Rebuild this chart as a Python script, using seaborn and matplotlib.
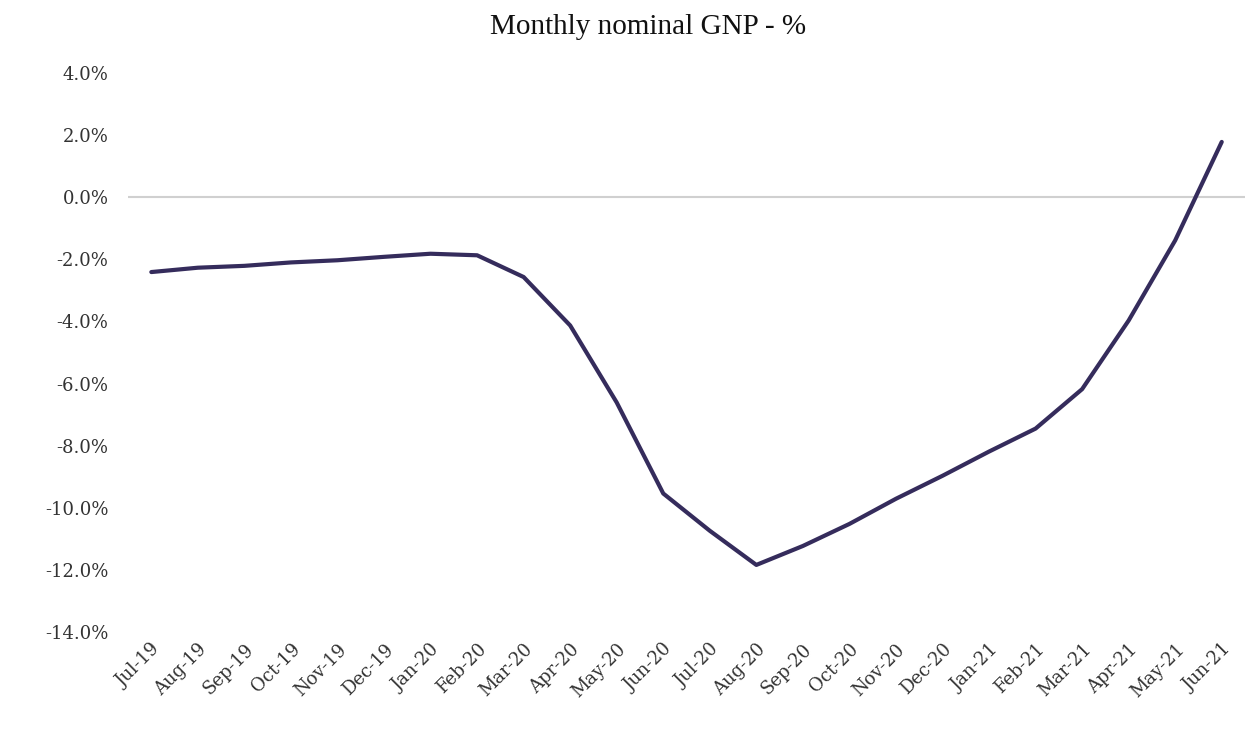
import pandas as pd
import seaborn as sns
import matplotlib.pyplot as plt
from matplotlib.ticker import FuncFormatter

# month labels and values
months = ['Jul-19', 'Aug-19', 'Sep-19', 'Oct-19', 'Nov-19', 'Dec-19',
          'Jan-20', 'Feb-20', 'Mar-20', 'Apr-20', 'May-20', 'Jun-20',
          'Jul-20', 'Aug-20', 'Sep-20', 'Oct-20', 'Nov-20', 'Dec-20',
          'Jan-21', 'Feb-21', 'Mar-21', 'Apr-21', 'May-21', 'Jun-21']
gnp = [-2.41, -2.27, -2.21, -2.10, -2.03, -1.92,
       -1.82, -1.87, -2.57, -4.13, -6.61, -9.54,
       -10.74, -11.84, -11.23, -10.52, -9.71, -8.97,
       -8.19, -7.45, -6.18, -3.97, -1.39, 1.78]
yticks = [-14, -12, -10, -8, -6, -4, -2, 0, 2, 4]

df = pd.DataFrame({'month': months, 'gnp': gnp})

sns.set_style('white')
plt.rcParams['font.family'] = ['DejaVu Serif']

fig = plt.figure(figsize=(12.48, 7.32), dpi=100)
ax = fig.add_axes([0.1026, 0.1366, 0.895, 0.7637])

ax.axhline(0, color='#d0d0d0', linewidth=1.5, zorder=1)
sns.lineplot(data=df, x='month', y='gnp', sort=False, color='#352c5c',
             linewidth=3, ax=ax, zorder=2)

ax.set_xlim(-0.5, len(months) - 0.5)
ax.set_ylim(-14, 4)
ax.set_yticks(yticks)
ax.yaxis.set_major_formatter(FuncFormatter(lambda v, p: f'{v:.1f}%'))
ax.set_xticks(range(len(months)))
ax.set_xticklabels(months, rotation=45, ha='right', rotation_mode='anchor')
ax.tick_params(axis='both', length=0, labelsize=13, colors='#333333')
ax.tick_params(axis='y', pad=14)
ax.tick_params(axis='x', pad=6)
ax.set_xlabel('')
ax.set_ylabel('')
for s in ax.spines.values():
    s.set_visible(False)

fig.suptitle('Monthly nominal GNP - %', x=0.519, y=0.981, fontsize=21,
             color='#111111', family='Liberation Serif')

fig.savefig('out.png', dpi=100)
